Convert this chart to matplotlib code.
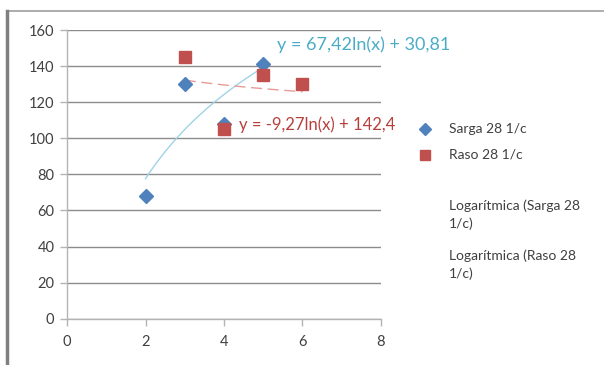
import numpy as np
import matplotlib
matplotlib.use("Agg")
import matplotlib.pyplot as plt
from matplotlib.lines import Line2D

plt.rcParams['font.family'] = ['Lato', 'DejaVu Sans']

# Series data
sarga_x = [2, 3, 4, 5]
sarga_y = [68, 130, 108, 141]
raso_x = [3, 4, 5, 6]
raso_y = [145, 105, 135, 130]

# Logarithmic trend coefficients (y = a*ln(x) + b)
sarga_a, sarga_b = 67.42, 30.81
raso_a, raso_b = -9.27, 142.4

series_names = ["Sarga 28 1/c", "Raso 28 1/c"]
trend_names = ["Logarítmica (Sarga 28\n1/c)", "Logarítmica (Raso 28\n1/c)"]

x_ticks = [0, 2, 4, 6, 8]
y_ticks = [0, 20, 40, 60, 80, 100, 120, 140, 160]

BLUE = "#4f81bd"
RED = "#c0504d"
TEAL = "#4bacc6"
GRID = "#8c8c8c"
AXIS = "#b3b3b3"
TEXT = "#404040"

W, H = 604, 365
fig = plt.figure(figsize=(W / 100, H / 100), dpi=100)
ax = fig.add_axes([67 / W, 1 - 318.7 / H, (381 - 67) / W, (318.7 - 30) / H])

ax.set_xlim(0, 8)
ax.set_ylim(0, 160)
ax.set_xticks(x_ticks)
ax.set_yticks(y_ticks)
ax.yaxis.grid(True, color=GRID, linewidth=1.0)
ax.set_axisbelow(True)
for side in ("top", "right"):
    ax.spines[side].set_visible(False)
for side in ("left", "bottom"):
    ax.spines[side].set_color(AXIS)
    ax.spines[side].set_linewidth(1.0)
ax.tick_params(axis="both", direction="out", length=5, width=1.0, color=AXIS,
               labelsize=10.5, labelcolor=TEXT)
ax.tick_params(axis="y", pad=4)
ax.tick_params(axis="x", pad=7)

# Trend lines
xs = np.linspace(min(sarga_x), max(sarga_x), 200)
ax.plot(xs, sarga_a * np.log(xs) + sarga_b, color="#9fd3e6", linewidth=1.0, zorder=2)
xr = np.linspace(min(raso_x), max(raso_x), 200)
ax.plot(xr, raso_a * np.log(xr) + raso_b, color="#e79b99", linewidth=1.0,
        dashes=(8, 4), zorder=2)

# Scatter series
ax.plot(sarga_x, sarga_y, linestyle="none", marker="D", markersize=7,
        color=BLUE, zorder=3)
ax.plot(raso_x, raso_y, linestyle="none", marker="s", markersize=8.5,
        color=RED, zorder=3)

# Equation labels
ax.text(5.35, 152, f"y = {sarga_a:.2f}ln(x) + {sarga_b:.2f}".replace(".", ","),
        color=TEAL, fontsize=13, va="center", ha="left")
ax.text(4.38, 107.6, f"y = {raso_a:.2f}ln(x) + {raso_b:.1f}".replace(".", ","),
        color="#b5403d", fontsize=12, va="center", ha="left")

# Legend
def fy(py):
    return 1 - py / H

fig.add_artist(Line2D([425 / W], [fy(129)], marker="D", markersize=6.5,
                      color=BLUE, linestyle="none"))
fig.add_artist(Line2D([425 / W], [fy(155)], marker="s", markersize=7.5,
                      color=RED, linestyle="none"))
leg_x = 449 / W
fig.text(leg_x, fy(129), series_names[0], fontsize=10, color=TEXT, va="center")
fig.text(leg_x, fy(155), series_names[1], fontsize=10, color=TEXT, va="center")
fig.text(leg_x, fy(214.5), trend_names[0], fontsize=10, color=TEXT, va="center",
         linespacing=1.55)
fig.text(leg_x, fy(264.5), trend_names[1], fontsize=10, color=TEXT, va="center",
         linespacing=1.55)

# Chart border
fig.add_artist(Line2D([7 / W, 603 / W], [fy(11), fy(11)], color="#a6a6a6", linewidth=1.3))
fig.add_artist(Line2D([7 / W, 7 / W], [fy(11), 0], color="#808080", linewidth=2.5))

fig.savefig("out.png", dpi=100)
